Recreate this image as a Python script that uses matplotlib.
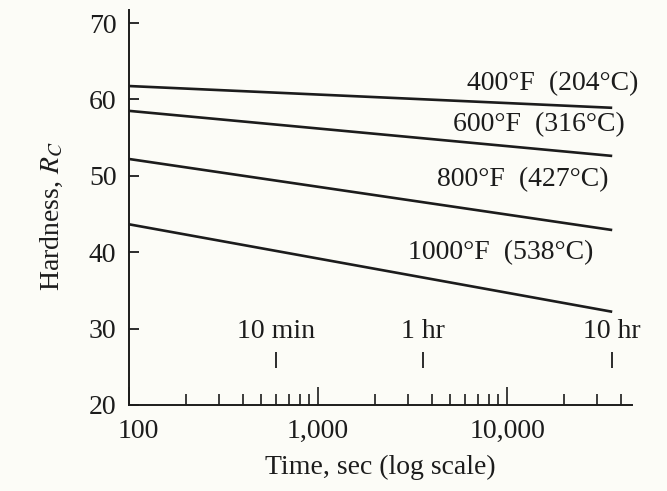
import matplotlib.pyplot as plt
import matplotlib.transforms as mtransforms
from matplotlib.ticker import FixedLocator, NullFormatter

plt.rcParams["font.family"] = ["Liberation Serif", "DejaVu Serif"]
plt.rcParams["mathtext.fontset"] = "stix"

INK = "#1c1c1c"
PAPER = "#fcfcf7"
FS = 20

# tempering curves: hardness at 100 s and at 10 hr (36,000 s)
times = [100, 36000]
hard_400 = [61.75, 58.9]
hard_600 = [58.5, 52.6]
hard_800 = [52.2, 42.9]
hard_1000 = [43.65, 32.2]
curve_labels = ["400°F  (204°C)", "600°F  (316°C)",
                "800°F  (427°C)", "1000°F  (538°C)"]
# where each curve label sits (right edge x, centre y)
label_x = [49300, 42100, 34200, 28500]
label_y = [62.1, 56.65, 49.45, 39.9]

# time markers
event_times = [600, 3600, 36000]
event_labels = ["10 min", "1 hr", "10 hr"]

major_x = [1000, 10000]
minor_x = [200, 300, 400, 500, 600, 700, 800, 900,
           2000, 3000, 4000, 5000, 6000, 7000, 8000, 9000,
           20000, 30000, 40000]
x_labels = ["100", "1,000", "10,000"]
y_ticks = [20, 30, 40, 50, 60, 70]

fig = plt.figure(figsize=(6.67, 4.91), dpi=100, facecolor=PAPER)
ax = fig.add_axes([0.1934, 0.1752, 0.9475 - 0.1934, 0.9796 - 0.1752])
ax.set_facecolor(PAPER)

for h in [hard_400, hard_600, hard_800, hard_1000]:
    ax.plot(times, h, color=INK, lw=1.9, solid_capstyle="butt")

for txt, x, y in zip(curve_labels, label_x, label_y):
    ax.text(x, y, txt, ha="right", va="center", fontsize=FS,
            color=INK, clip_on=False)

ax.vlines(event_times, 24.9, 26.9, color=INK, lw=1.3)
for t, lab in zip(event_times, event_labels):
    ax.text(t, 29.6, lab, ha="center", va="center", fontsize=FS, color=INK)

ax.set_xscale("log")
ax.set_xlim(100, 45800)
ax.set_ylim(20, 71.7)

ax.xaxis.set_major_locator(FixedLocator([100] + major_x))
ax.set_xticklabels(x_labels)
ax.xaxis.set_minor_locator(FixedLocator(minor_x))
ax.xaxis.set_minor_formatter(NullFormatter())
ax.set_yticks(y_ticks)

ax.tick_params(axis="x", which="major", direction="in", length=13,
               width=1.2, pad=10, labelsize=FS, colors=INK)
ax.tick_params(axis="x", which="minor", direction="in", length=8,
               width=1.2, colors=INK)
ax.tick_params(axis="y", which="major", direction="in", length=7,
               width=1.3, pad=9, labelsize=FS, colors=INK)

# nudge the "100" label a little to the right
first = ax.get_xticklabels()[0]
first.set_transform(first.get_transform() +
                    mtransforms.ScaledTranslation(9 / 100, 0, fig.dpi_scale_trans))

for side in ["top", "right"]:
    ax.spines[side].set_visible(False)
for side in ["left", "bottom"]:
    ax.spines[side].set_color(INK)
    ax.spines[side].set_linewidth(1.4)

ax.set_xlabel("Time, sec (log scale)", fontsize=FS, color=INK)
ax.xaxis.set_label_coords(0.5, -0.125)
ax.set_ylabel("Hardness, $\\mathit{R_C}$", fontsize=FS, color=INK)
ax.yaxis.set_label_coords(-0.127, 0.478)

fig.savefig("out.png", dpi=100, facecolor=PAPER)
